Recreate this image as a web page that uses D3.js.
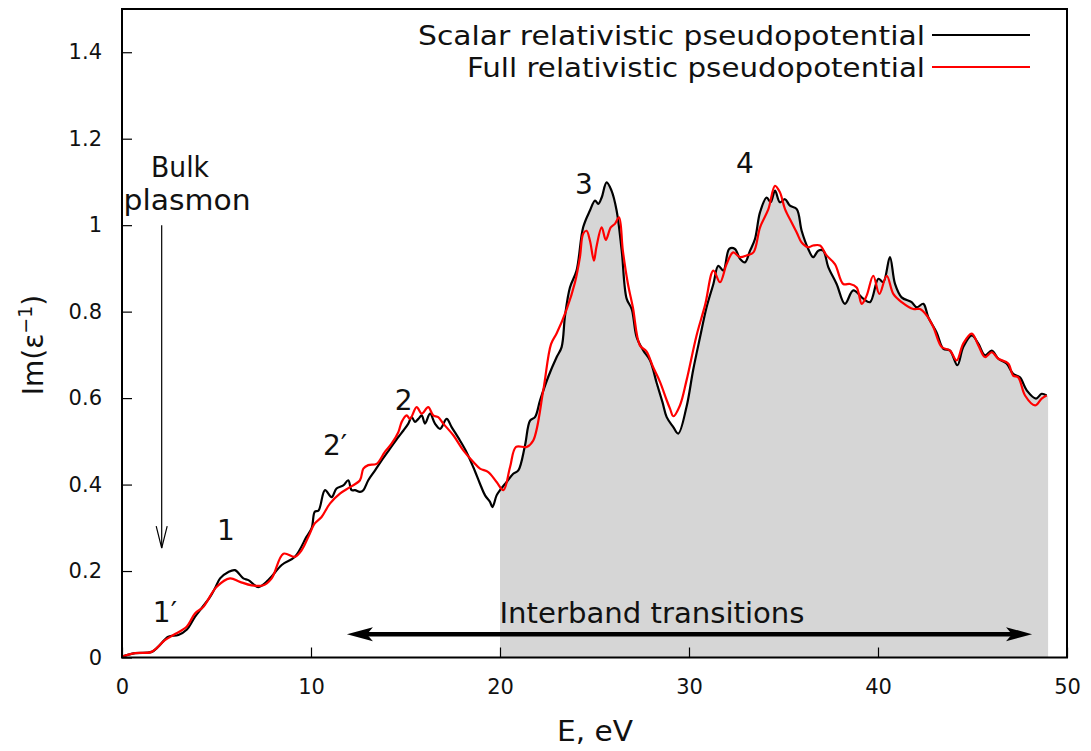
<!DOCTYPE html>
<html>
<head>
<meta charset="utf-8">
<script src="https://cdn.jsdelivr.net/npm/d3@7"></script>
<style>
  body { margin: 0; background: #fff; }
  text { font-family: "DejaVu Sans", sans-serif; fill: #111; }
</style>
</head>
<body>
<svg id="chart" width="1091" height="751"></svg>
<script>
// Loss function Im(1/eps) versus energy, two pseudopotential flavours.
const energyScalar = [0, 0.69, 1.57, 1.92, 2.45, 2.98, 3.42, 3.86, 4.21, 4.66, 4.92, 5.19, 5.63, 5.98, 6.42, 6.69, 7.21, 7.74, 8.45, 9.15, 9.76, 10.04, 10.2, 10.4, 10.74, 11.09, 11.35, 11.71, 11.97, 12.15, 12.33, 12.59, 12.77, 13.03, 13.39, 13.74, 14.18, 14.62, 14.89, 15.15, 15.33, 15.5, 15.68, 15.86, 16.03, 16.3, 16.56, 16.83, 17.18, 17.44, 17.88, 18.23, 18.59, 18.94, 19.21, 19.47, 19.6, 19.82, 20.0, 20.35, 20.7, 20.97, 21.32, 21.59, 21.85, 22.12, 22.56, 23.0, 23.26, 23.44, 23.7, 24.05, 24.4, 24.76, 25.03, 25.2, 25.38, 25.64, 25.9, 26.17, 26.44, 26.7, 26.97, 27.23, 27.58, 27.94, 28.29, 28.6, 28.82, 29.17, 29.43, 29.87, 30.22, 30.58, 30.93, 31.29, 31.55, 31.82, 32.13, 32.43, 32.7, 32.96, 33.23, 33.49, 33.76, 34.11, 34.32, 34.55, 34.81, 35.08, 35.34, 35.7, 35.96, 36.31, 36.57, 36.84, 37.1, 37.37, 37.81, 38.25, 38.69, 39.22, 39.58, 40.02, 40.28, 40.63, 40.9, 41.25, 41.78, 42.05, 42.4, 42.66, 43.1, 43.46, 43.81, 44.2, 44.51, 44.96, 45.31, 45.66, 46.02, 46.37, 46.8, 47.15, 47.51, 47.87, 48.36, 48.66, 48.92];
const imScalar = [0.002, 0.01, 0.013, 0.025, 0.048, 0.052, 0.064, 0.094, 0.114, 0.14, 0.16, 0.183, 0.198, 0.202, 0.183, 0.179, 0.163, 0.179, 0.214, 0.233, 0.279, 0.30, 0.337, 0.34, 0.387, 0.371, 0.391, 0.398, 0.41, 0.387, 0.387, 0.383, 0.387, 0.41, 0.433, 0.456, 0.483, 0.51, 0.525, 0.541, 0.556, 0.545, 0.552, 0.56, 0.541, 0.564, 0.541, 0.529, 0.552, 0.533, 0.502, 0.475, 0.44, 0.402, 0.375, 0.36, 0.348, 0.375, 0.387, 0.406, 0.425, 0.433, 0.49, 0.548, 0.556, 0.595, 0.65, 0.695, 0.718, 0.79, 0.856, 0.895, 0.995, 1.034, 1.057, 1.049, 1.064, 1.099, 1.08, 1.034, 0.941, 0.83, 0.806, 0.741, 0.71, 0.687, 0.635, 0.59, 0.556, 0.533, 0.518, 0.58, 0.665, 0.74, 0.81, 0.864, 0.906, 0.895, 0.945, 0.945, 0.922, 0.914, 0.941, 0.968, 1.03, 1.064, 1.053, 1.08, 1.053, 1.06, 1.045, 1.037, 0.987, 0.945, 0.926, 0.941, 0.941, 0.903, 0.864, 0.818, 0.849, 0.83, 0.822, 0.876, 0.868, 0.926, 0.864, 0.833, 0.822, 0.81, 0.818, 0.787, 0.752, 0.714, 0.71, 0.676, 0.718, 0.745, 0.726, 0.699, 0.71, 0.691, 0.68, 0.656, 0.648, 0.618, 0.599, 0.61, 0.606];

const energyFull = [0, 0.69, 1.57, 2.27, 2.72, 3.42, 3.86, 4.3, 5.0, 5.71, 6.24, 6.86, 7.48, 7.92, 8.54, 9.15, 9.5, 9.86, 10.2, 10.56, 11.0, 11.53, 12.06, 12.59, 12.77, 13.03, 13.47, 13.9, 14.27, 14.62, 14.8, 15.06, 15.24, 15.59, 15.86, 16.2, 16.47, 16.73, 17.0, 17.53, 18.06, 18.59, 18.94, 19.38, 19.82, 20.18, 20.53, 20.85, 21.41, 21.76, 22.29, 22.7, 23.0, 23.53, 23.97, 24.23, 24.4, 24.58, 24.76, 24.97, 25.1, 25.38, 25.6, 25.86, 26.08, 26.3, 26.5, 26.77, 27.03, 27.4, 27.75, 28.1, 28.47, 28.82, 29.0, 29.17, 29.52, 29.87, 30.4, 30.85, 31.29, 31.64, 31.99, 32.34, 32.7, 33.05, 33.41, 33.76, 34.2, 34.55, 34.81, 35.08, 35.43, 35.7, 35.96, 36.31, 36.57, 36.93, 37.28, 37.72, 38.16, 38.52, 38.87, 39.14, 39.4, 39.75, 40.07, 40.46, 40.81, 41.25, 41.87, 42.22, 42.58, 42.93, 43.37, 43.81, 44.16, 44.51, 44.96, 45.31, 45.66, 46.02, 46.37, 46.89, 47.15, 47.42, 47.78, 48.31, 48.66, 48.92];
const imFull = [0.002, 0.01, 0.013, 0.04, 0.052, 0.071, 0.102, 0.117, 0.163, 0.183, 0.175, 0.167, 0.167, 0.183, 0.24, 0.233, 0.248, 0.279, 0.31, 0.325, 0.356, 0.379, 0.394, 0.41, 0.437, 0.445, 0.448, 0.475, 0.495, 0.521, 0.545, 0.56, 0.552, 0.579, 0.564, 0.579, 0.56, 0.556, 0.541, 0.514, 0.479, 0.452, 0.437, 0.429, 0.406, 0.387, 0.44, 0.487, 0.487, 0.502, 0.618, 0.725, 0.75, 0.806, 0.868, 0.926, 0.98, 0.987, 0.964, 0.918, 0.949, 0.995, 0.966, 0.995, 1.003, 1.018, 0.941, 0.864, 0.81, 0.722, 0.708, 0.672, 0.637, 0.595, 0.575, 0.558, 0.583, 0.641, 0.745, 0.815, 0.895, 0.868, 0.91, 0.937, 0.926, 0.93, 0.937, 0.995, 1.037, 1.091, 1.076, 1.037, 1.006, 0.983, 0.96, 0.949, 0.953, 0.953, 0.93, 0.91, 0.864, 0.864, 0.856, 0.818, 0.837, 0.883, 0.841, 0.883, 0.841, 0.822, 0.806, 0.806, 0.791, 0.764, 0.718, 0.71, 0.687, 0.726, 0.749, 0.722, 0.695, 0.706, 0.691, 0.68, 0.652, 0.648, 0.606, 0.583, 0.599, 0.606];

const seriesNames = ["Scalar relativistic pseudopotential", "Full relativistic pseudopotential"];
const seriesColors = ["#000000", "#ff0000"];
const xTicks = [0, 10, 20, 30, 40, 50];
const yTicks = [0, 0.2, 0.4, 0.6, 0.8, 1.0, 1.2, 1.4];
const yTickLabels = ["0", "0.2", "0.4", "0.6", "0.8", "1", "1.2", "1.4"];
const peakLabels = ["1\u2032", "1", "2\u2032", "2", "3", "4"];
const peakLabelE = [2.27, 5.5, 11.27, 14.9, 24.44, 32.96];
const peakLabelIm = [0.082, 0.271, 0.468, 0.572, 1.073, 1.121];
const interbandRange = [20, 49];

const svg = d3.select("#chart");
const x = d3.scaleLinear().domain([0, 50]).range([122, 1067]);
const y = d3.scaleLinear().domain([0, 1.5]).range([657.5, 9]);

const scalarPts = energyScalar.map((e, i) => [e, imScalar[i]]);
const fullPts = energyFull.map((e, i) => [e, imFull[i]]);

// shaded interband region under the scalar curve
function valueAt(pts, e) {
  for (let i = 1; i < pts.length; i++) {
    if (pts[i][0] >= e) {
      const t = (e - pts[i - 1][0]) / (pts[i][0] - pts[i - 1][0]);
      return pts[i - 1][1] + t * (pts[i][1] - pts[i - 1][1]);
    }
  }
  return pts[pts.length - 1][1];
}
const shadePts = [[interbandRange[0], valueAt(scalarPts, interbandRange[0])]]
  .concat(scalarPts.filter(p => p[0] > interbandRange[0] && p[0] < interbandRange[1]))
  .concat([[interbandRange[1], scalarPts[scalarPts.length - 1][1]]]);

svg.append("path")
  .datum(shadePts)
  .attr("fill", "#d6d6d6")
  .attr("d", d3.area().x(d => x(d[0])).y0(y(0)).y1(d => y(d[1])).curve(d3.curveCatmullRom.alpha(0.5)));

// curves
const line = d3.line().x(d => x(d[0])).y(d => y(d[1])).curve(d3.curveCatmullRom.alpha(0.5));
svg.append("path").datum(scalarPts)
  .attr("fill", "none").attr("stroke", seriesColors[0]).attr("stroke-width", 2.2)
  .attr("stroke-linejoin", "round").attr("d", line);
svg.append("path").datum(fullPts)
  .attr("fill", "none").attr("stroke", seriesColors[1]).attr("stroke-width", 2.2)
  .attr("stroke-linejoin", "round").attr("d", line);

// frame
svg.append("rect")
  .attr("x", x(0)).attr("y", y(1.5))
  .attr("width", x(50) - x(0)).attr("height", y(0) - y(1.5))
  .attr("fill", "none").attr("stroke", "#000").attr("stroke-width", 2);

// axes with inward ticks
const yAxis = d3.axisLeft(y).tickValues(yTicks).tickSize(-10).tickPadding(20)
  .tickFormat((d, i) => yTickLabels[i]);
const gy = svg.append("g").attr("transform", `translate(${x(0)},0)`).call(yAxis);
gy.select(".domain").remove();
gy.selectAll(".tick line").attr("stroke", "#000").attr("stroke-width", 1.2);
gy.selectAll(".tick text").attr("font-size", 21).attr("font-family", "DejaVu Sans").attr("fill", "#111");

const xAxis = d3.axisBottom(x).tickValues(xTicks).tickSize(-10).tickPadding(22);
const gx = svg.append("g").attr("transform", `translate(0,${y(0)})`).call(xAxis);
gx.select(".domain").remove();
gx.selectAll(".tick line").attr("stroke", "#000").attr("stroke-width", 1.2);
gx.selectAll(".tick text").attr("font-size", 21).attr("font-family", "DejaVu Sans").attr("fill", "#111");

// axis titles
svg.append("text").attr("x", 595).attr("y", 741).attr("text-anchor", "middle")
  .attr("font-size", 28).attr("textLength", 76).attr("lengthAdjust", "spacingAndGlyphs").text("E, eV");
const yt = svg.append("text").attr("transform", "translate(43,345) rotate(-90)")
  .attr("text-anchor", "middle").attr("font-size", 28);
yt.append("tspan").text("Im(\u03b5");
yt.append("tspan").attr("font-size", 19).attr("dy", -11).text("\u22121");
yt.append("tspan").attr("dy", 11).text(")");

// legend
const legendWidths = [507, 458];
seriesNames.forEach((name, i) => {
  const ly = 35 + i * 32;
  svg.append("text").attr("x", 925).attr("y", ly + 10).attr("text-anchor", "end")
    .attr("font-size", 27).attr("textLength", legendWidths[i]).attr("lengthAdjust", "spacingAndGlyphs")
    .text(name);
  svg.append("line").attr("x1", 932).attr("x2", 1030).attr("y1", ly).attr("y2", ly)
    .attr("stroke", seriesColors[i]).attr("stroke-width", 2.2);
});

// peak labels
peakLabels.forEach((t, i) => {
  svg.append("text").attr("x", x(peakLabelE[i])).attr("y", y(peakLabelIm[i]))
    .attr("text-anchor", "middle").attr("font-size", 28).text(t);
});

// bulk plasmon marker
svg.append("text").attr("x", 180).attr("y", 177).attr("text-anchor", "middle").attr("font-size", 28)
  .attr("textLength", 58).attr("lengthAdjust", "spacingAndGlyphs").text("Bulk");
svg.append("text").attr("x", 187).attr("y", 210).attr("text-anchor", "middle").attr("font-size", 28)
  .attr("textLength", 127).attr("lengthAdjust", "spacingAndGlyphs").text("plasmon");
const px = x(2.1), pTop = y(1.0), pBot = y(0.253);
svg.append("line").attr("x1", px).attr("x2", px).attr("y1", pTop).attr("y2", pBot)
  .attr("stroke", "#000").attr("stroke-width", 1.2);
svg.append("path").attr("d", `M${px - 5.5},${pBot - 22} L${px},${pBot} L${px + 5.5},${pBot - 22}`)
  .attr("fill", "none").attr("stroke", "#000").attr("stroke-width", 1.2);

// interband transitions double arrow
const ax1 = x(11.9), ax2 = x(48.15), ay = y(0.054);
svg.append("line").attr("x1", ax1 + 15).attr("x2", ax2 - 15).attr("y1", ay).attr("y2", ay)
  .attr("stroke", "#000").attr("stroke-width", 4.5);
svg.append("path").attr("d", `M${ax1},${ay} L${ax1 + 26},${ay - 7} L${ax1 + 20},${ay} L${ax1 + 26},${ay + 7} Z`).attr("fill", "#000");
svg.append("path").attr("d", `M${ax2},${ay} L${ax2 - 26},${ay - 7} L${ax2 - 20},${ay} L${ax2 - 26},${ay + 7} Z`).attr("fill", "#000");
svg.append("text").attr("x", 652).attr("y", 623).attr("text-anchor", "middle").attr("font-size", 28)
  .attr("textLength", 305).attr("lengthAdjust", "spacingAndGlyphs").text("Interband transitions");
</script>
</body>
</html>
